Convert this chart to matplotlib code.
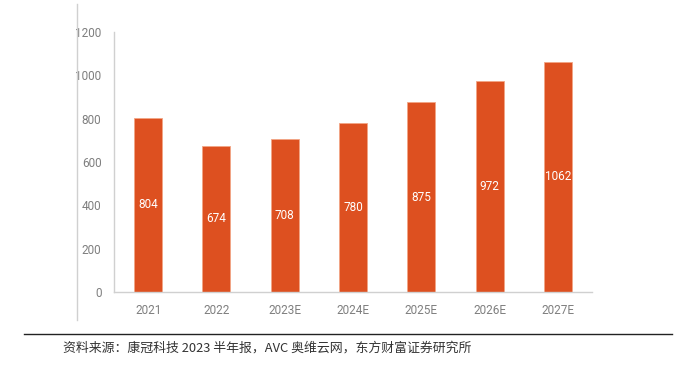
import matplotlib.pyplot as plt
import numpy as np

plt.rcParams['font.family'] = ['Roboto', 'Noto Sans CJK SC', 'DejaVu Sans']

# data
years = ["2021", "2022", "2023E", "2024E", "2025E", "2026E", "2027E"]
values = [804, 674, 708, 780, 875, 972, 1062]
yticks = [0, 200, 400, 600, 800, 1000, 1200]
source = "资料来源：康冠科技 2023 半年报，AVC 奥维云网，东方财富证券研究所"

bar_color = '#DD5020'
grid_gray = '#D0D0D0'

fig = plt.figure(figsize=(6.82, 3.67), dpi=100)
ax = fig.add_axes([114 / 682, 1 - 292 / 367, (592 - 114) / 682, (292 - 32) / 367])

x = np.arange(len(years))
bars = ax.bar(x, values, width=0.41, color=bar_color, edgecolor='#F2A585', linewidth=0.6)

# value labels in the middle of each bar
for xi, v in zip(x, values):
    ax.text(xi, v / 2, str(v), ha='center', va='center', color='white', fontsize=8.5)

ax.set_xlim(-0.5, len(years) - 0.5)
ax.set_ylim(0, 1200)
ax.set_yticks(yticks)
ax.set_xticks(x)
ax.set_xticklabels(years)
ax.tick_params(axis='both', length=0, labelsize=8.5, labelcolor='#7F7F7F')
ax.tick_params(axis='y', pad=9)
ax.tick_params(axis='x', pad=9)

for s in ['top', 'right']:
    ax.spines[s].set_visible(False)
for s in ['left', 'bottom']:
    ax.spines[s].set_color(grid_gray)
    ax.spines[s].set_linewidth(1.0)

# outer frame line at left of chart block
fig.add_artist(plt.Line2D([77 / 682, 77 / 682], [1 - 4 / 367, 1 - 320 / 367],
                          color=grid_gray, linewidth=1.0, transform=fig.transFigure))
# black separator above the source note
fig.add_artist(plt.Line2D([24 / 682, 672 / 682], [1 - 334 / 367, 1 - 334 / 367],
                          color='#222222', linewidth=1.0, transform=fig.transFigure))

fig.text(63 / 682, 1 - 348 / 367, source, ha='left', va='center', fontsize=9.3,
         color='#333333', family=['Noto Sans CJK SC', 'DejaVu Sans'])

fig.savefig("out.png", dpi=100)
